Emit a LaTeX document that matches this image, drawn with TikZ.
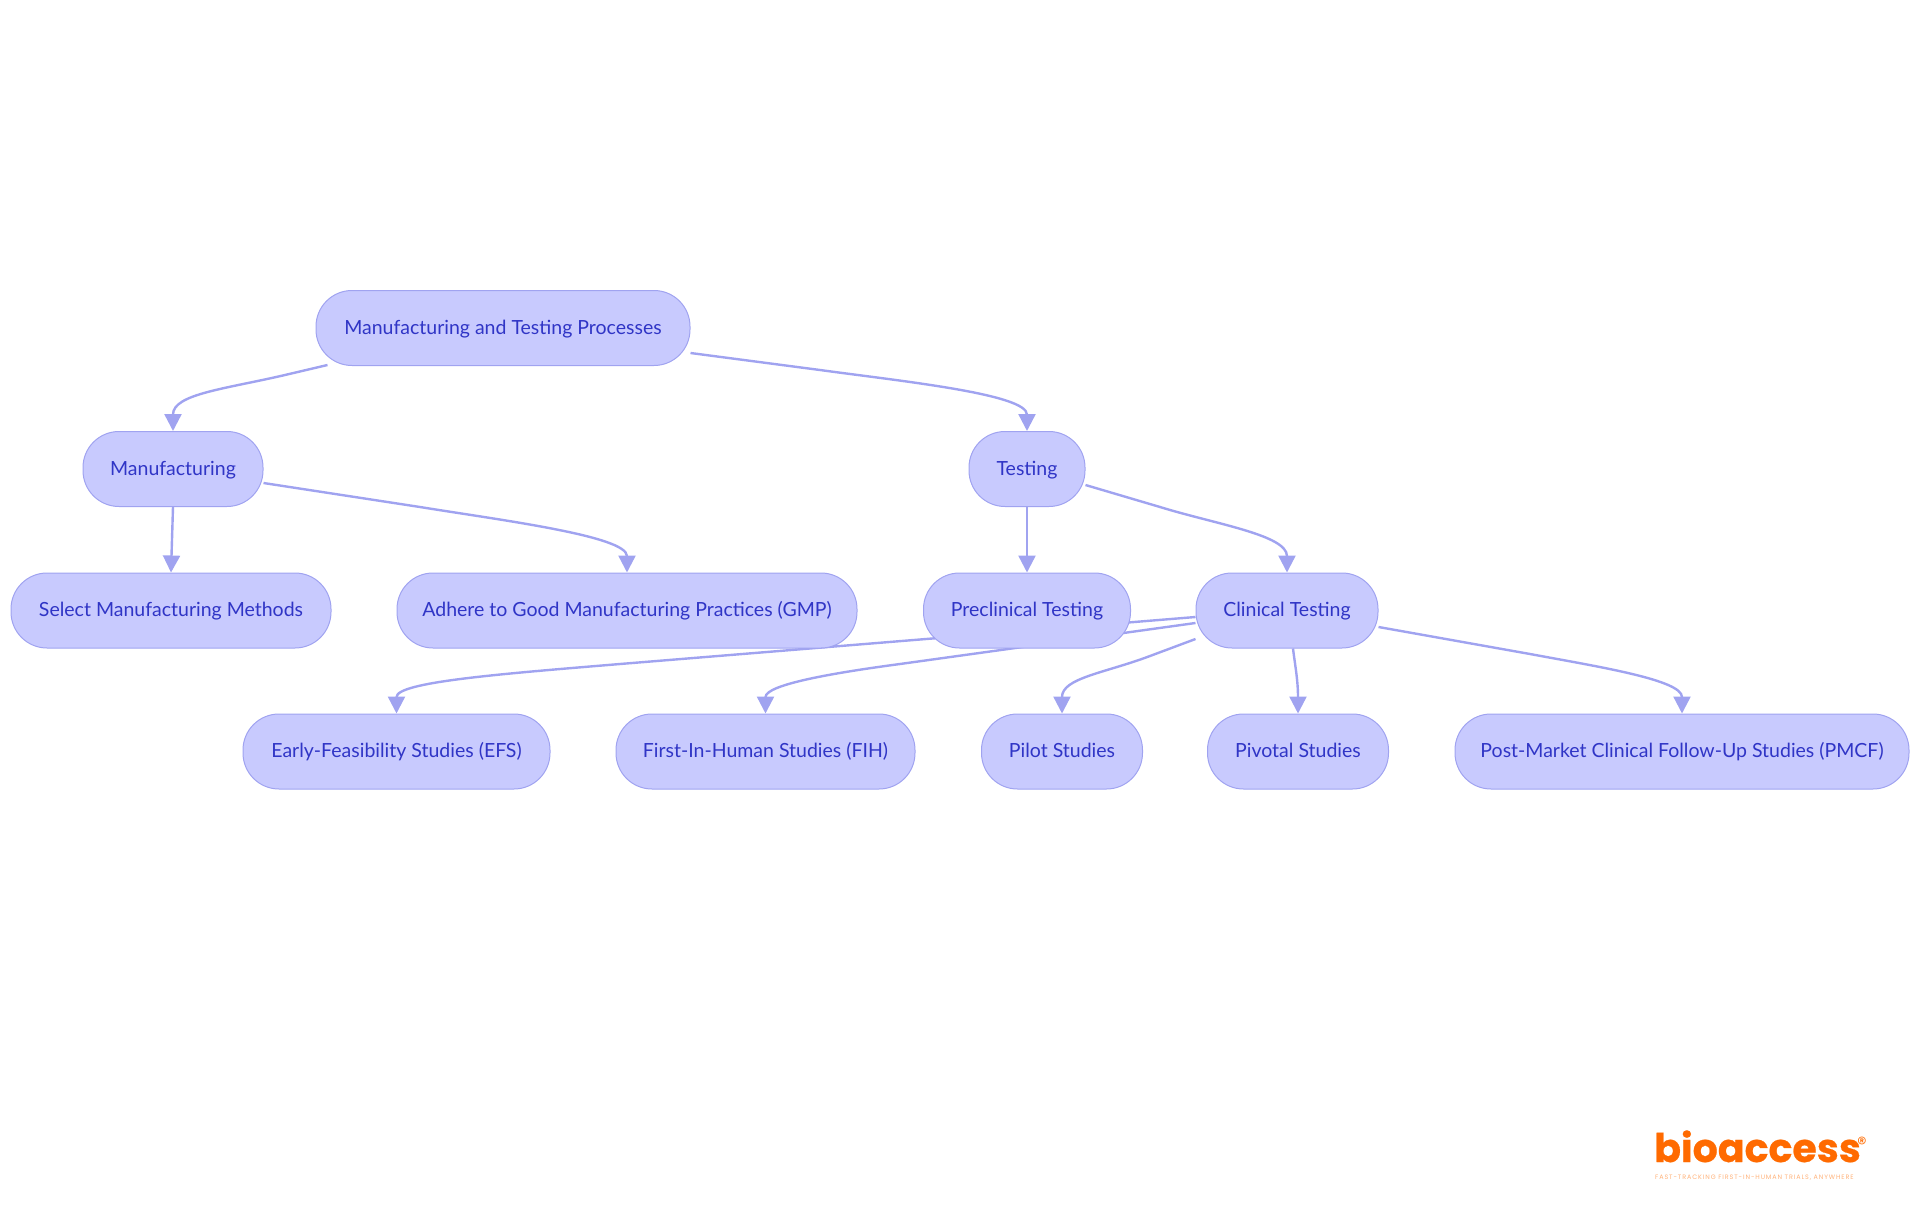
\documentclass[tikz,border=0pt]{standalone}
\usepackage{fontspec}
\setmainfont{Lato}
\newfontfamily\logofont[FakeBold=0.6]{Poppins Bold}
\newfontfamily\smallfont{Poppins}
\usetikzlibrary{arrows.meta,calc}
\pgfdeclarelayer{edges}
\pgfsetlayers{edges,main}
\definecolor{boxfill}{HTML}{C8CAFE}
\definecolor{boxline}{HTML}{A0A3F0}
\definecolor{boxtext}{HTML}{3035C6}
\definecolor{logoorange}{HTML}{FF6A00}
\definecolor{logolight}{HTML}{FFB27A}
\tikzset{
  box/.style={draw=boxline,fill=boxfill,line width=1pt,rounded corners=36pt,minimum height=75pt,inner sep=0pt,
    text=boxtext,text height=17pt,text depth=4.6pt,font=\fontsize{19.5}{24}\selectfont},
  link/.style={draw=boxline,line width=2.4pt,-{Triangle[length=17pt,width=17pt]}}
}
\begin{document}
\begin{tikzpicture}[x=1pt,y=-1pt]
\useasboundingbox (0,0) rectangle (1920,1215);
\node[box,minimum width=374pt] (root) at (503,328) {Manufacturing and Testing Processes};
\node[box,minimum width=180pt] (mfg) at (173,469) {Manufacturing};
\node[box,minimum width=116pt] (test) at (1027,469) {Testing};
\node[box,minimum width=320pt] (sel) at (171,610.5) {Select Manufacturing Methods};
\node[box,minimum width=460pt] (gmp) at (627,610.5) {Adhere to Good Manufacturing Practices (GMP)};
\node[box,minimum width=207pt] (pre) at (1027,610.5) {Preclinical Testing};
\node[box,minimum width=182pt] (cli) at (1287,610.5) {Clinical Testing};
\node[box,minimum width=307pt] (efs) at (396.5,751.5) {Early-Feasibility Studies (EFS)};
\node[box,minimum width=299pt] (fih) at (765.5,751.5) {First-In-Human Studies (FIH)};
\node[box,minimum width=161pt] (pilot) at (1062,751.5) {Pilot Studies};
\node[box,minimum width=181pt] (pivot) at (1298,751.5) {Pivotal Studies};
\node[box,minimum width=454pt] (pmcf) at (1682,751.5) {Post-Market Clinical Follow-Up Studies (PMCF)};
\node[anchor=base west,inner sep=0pt,text=logoorange,font=\logofont\fontsize{39.5}{44}\selectfont] (logo) at (1654,1162) {bioaccess};
\node[anchor=center,inner sep=0pt,text=logoorange,font=\smallfont\fontsize{19}{20}\selectfont] (reg) at (1862,1144) {®};
\node[anchor=base west,inner sep=0pt,text=logolight,font=\smallfont\fontsize{6.4}{8}\selectfont] (tag) at (1655,1179) {\addfontfeature{LetterSpace=14}FAST-TRACKING FIRST-IN-HUMAN TRIALS, ANYWHERE};
\begin{pgfonlayer}{edges}
\draw[link] ($(root.south west)+(12,-1)$) -- (285,375) .. controls (225,389) and (173,394) .. (mfg.north);
\draw[link] ($(root.east)+(0,25)$) -- (820,370) .. controls (900,381) and (1027,394) .. (test.north);
\draw[link] (mfg.south) -- (sel.north);
\draw[link] ($(mfg.east)+(0,14)$) -- (420,507) .. controls (500,520) and (627,536) .. (gmp.north);
\draw[link] (test.south) -- (pre.north);
\draw[link] ($(test.east)+(0,16)$) -- (1160,507) .. controls (1215,524) and (1287,535) .. (cli.north);
\draw[link] ($(cli.west)+(0,6.5)$) -- (620,664) .. controls (500,674) and (396.5,682) .. (efs.north);
\draw[link] ($(cli.west)+(0,12.5)$) -- (900,664) .. controls (840,672) and (765.5,684) .. (fih.north);
\draw[link] ($(cli.west)+(0,28.5)$) -- (1150,656) .. controls (1105,673) and (1062,678) .. (pilot.north);
\draw[link] ($(cli.south)+(6,0)$) .. controls (1295,665) and (1298,680) .. (pivot.north);
\draw[link] ($(cli.east)+(0,16.5)$) -- (1530,654) .. controls (1600,667) and (1682,680) .. (pmcf.north);
\end{pgfonlayer}
\end{tikzpicture}
\end{document}
